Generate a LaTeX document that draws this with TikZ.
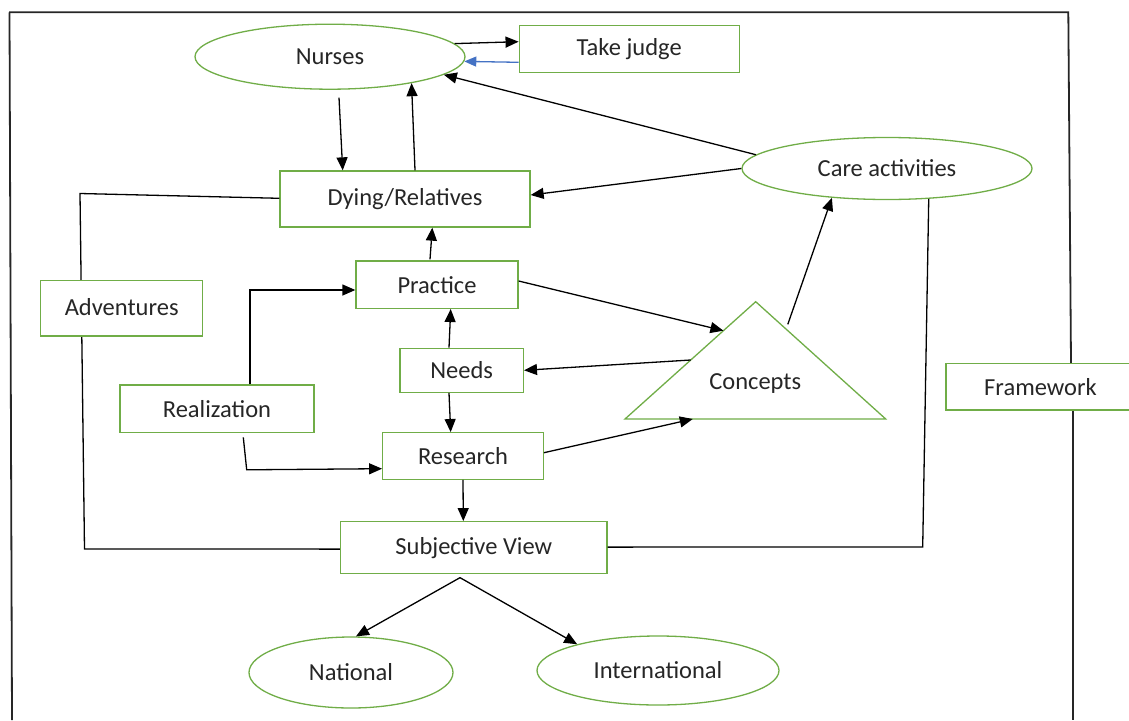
\documentclass[tikz,border=0pt]{standalone}
\usepackage{fontspec}
\setmainfont{Carlito}
\usetikzlibrary{arrows.meta,shapes.geometric,calc}
\definecolor{ogreen}{RGB}{112,173,71}
\definecolor{oblue}{RGB}{68,114,196}
\definecolor{txt}{RGB}{38,38,38}
\begin{document}
\begin{tikzpicture}[x=1pt,y=-1pt,
  every node/.style={font=\fontsize{24.5}{28}\selectfont, text=txt, inner sep=0pt},
  box/.style={draw=ogreen, line width=1.3pt, fill=white, rectangle},
  oval/.style={draw=ogreen, line width=1.3pt, fill=white, ellipse},
  link/.style={draw=black, line width=1.3pt},
  arr/.style={link, -{Triangle[length=13pt,width=11pt]}},
  frame/.style={draw=black!85, line width=1.8pt}
]
\clip (0,0) rectangle (1129,720);
\useasboundingbox (0,0) rectangle (1129,720);

% outer frame
\draw[frame] (9,12.3) -- (1068.3,12.3) -- (1071,363.3);
\draw[frame] (9.5,12.3) -- (12,720);
\draw[frame] (1072.7,410) -- (1072.7,720);

% coordinates for side lines
\coordinate (a1) at (80,193.5);
\coordinate (a2) at (84.5,549);
\coordinate (c2) at (922.7,547);

% nodes
\node[oval, minimum width=270pt, minimum height=65pt] (nurses) at (330,56.7) {Nurses};
\node[box, minimum width=220pt, minimum height=47pt] (take) at (629.2,48.7) {Take judge};
\node[oval, minimum width=290pt, minimum height=62pt] (care) at (887,168.5) {Care activities};
\node[box, minimum width=250pt, minimum height=56pt] (dying) at (405,199) {\raisebox{2pt}{Dying/Relatives}};
\node[box, minimum width=162pt, minimum height=47.3pt] (practice) at (437,284.7) {Practice};
\node[box, minimum width=123.3pt, minimum height=44pt] (needs) at (461.7,370.3) {Needs};
\node[box, minimum width=194pt, minimum height=47.7pt] (realization) at (217,408.9) {Realization};
\node[box, minimum width=160.6pt, minimum height=46.6pt] (research) at (463,456) {Research};
\node[box, minimum width=266.5pt, minimum height=51.8pt] (subj) at (473.8,547.6) {\raisebox{1.5pt}{Subjective View}};
\node[oval, minimum width=204pt, minimum height=71pt] (national) at (351,672.5) {National};
\node[oval, minimum width=242pt, minimum height=69pt] (intl) at (658,670.5) {International};
\node[box, minimum width=189pt, minimum height=46.7pt] (framework) at (1040.5,386.7) {Framework};

% concepts triangle
\coordinate (tL) at (625,419);
\coordinate (tR) at (885.7,419);
\coordinate (tA) at (755.7,301.7);
\draw[draw=ogreen, line width=1.3pt, fill=white] (tL) -- (tR) -- (tA) -- cycle;
\node (concepts) at (755.3,384) {Concepts};

% side lines (behind Adventures box)
\draw[link] ([yshift=0.7pt]dying.west) -- (a1) -- (a2) -- ([yshift=-1.5pt]subj.west);
\draw[link] (care.-36) -- (c2) -- ([yshift=0.5pt]subj.east);
\node[box, minimum width=162pt, minimum height=55.3pt] (adventures) at (121.7,308.4) {\raisebox{3pt}{Adventures}};

% connectors
\draw[arr] (nurses.6) -- ([yshift=7pt]take.west);
\draw[link, draw=oblue, -{Triangle[length=12pt,width=10pt]}] ([yshift=-13.6pt]take.west) -- (nurses.-2);
\draw[arr] (care.174) -- (nurses.-9);
\draw[arr] ([xshift=9pt,yshift=-7.7pt]nurses.south) -- ([xshift=-62.3pt]dying.north);
\draw[arr] ([xshift=10pt]dying.north) -- (nurses.-18);
\draw[arr] (care.west) -- ([yshift=4pt]dying.east);
\draw[arr] ([xshift=-7pt,yshift=1pt]practice.north) -- ([xshift=27.3pt]dying.south);
\draw[arr] ([yshift=3.7pt]practice.east) -- ($(tL)!0.753!(tA)$);
\draw[arr] ($(tA)!0.193!(tR)+(7,0)$) -- (care.-152);
\draw[arr] ($(tL)!0.503!(tA)$) -- (needs.east);
\draw[arr] ([xshift=-12.7pt]needs.north) -- ([xshift=13.7pt]practice.south);
\draw[arr] ([xshift=-12.7pt]needs.south) -- ([xshift=-12.3pt]research.north);
\draw[arr] ([xshift=33pt]realization.north) |- ([yshift=-5.3pt]practice.west);
\draw[arr] ([xshift=26.3pt,yshift=-4pt]realization.south) -- ++(3.4,32.4) -- ([yshift=-12.7pt]research.west);
\draw[arr] ([yshift=3.3pt]research.east) -- ($(tL)!0.26!(tR)$);
\draw[arr] (research.south) -- ([xshift=-10.5pt]subj.north);
\coordinate (sv) at ([xshift=-13.8pt,yshift=-3.5pt]subj.south);
\draw[arr] (sv) -- ([xshift=5pt]national.north);
\draw[arr] (sv) -- (intl.162);
\end{tikzpicture}
\end{document}
